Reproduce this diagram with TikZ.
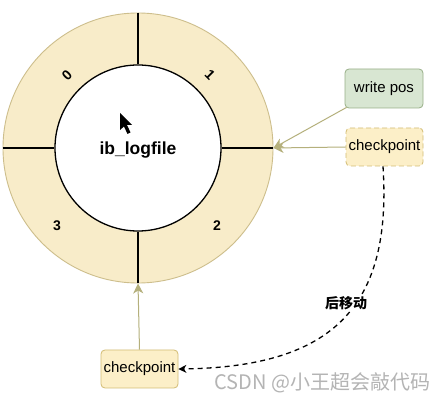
\documentclass[tikz,border=0pt]{standalone}
\usepackage{fontspec}
\setmainfont{Liberation Sans}
\newfontfamily\cjk{Noto Sans CJK SC}
\usetikzlibrary{arrows.meta}
\definecolor{ringfill}{HTML}{F8ECC9}
\definecolor{ringline}{HTML}{CDBE8C}
\definecolor{arrowc}{HTML}{B5B07C}
\definecolor{greenfill}{HTML}{D8E6D2}
\definecolor{greenline}{HTML}{98B088}
\definecolor{yelfill}{HTML}{FCEFC8}
\definecolor{yelline}{HTML}{D2BC74}
\definecolor{wmark}{HTML}{B4B4B4}
\tikzset{
  boxg/.style={draw=greenline, fill=greenfill, rounded corners=4pt, line width=0.8pt,
    minimum width=78pt, minimum height=39pt, inner sep=1pt, font=\fontsize{15}{17}\selectfont},
  boxy/.style={draw=yelline, fill=yelfill, rounded corners=4pt, line width=0.8pt,
    minimum width=77pt, minimum height=38pt, inner sep=1pt, font=\fontsize{15}{17}\selectfont},
  conn/.style={draw=arrowc, line width=1pt, -{Stealth[length=10pt,width=10pt,inset=3pt]}},
  digit/.style={font=\bfseries\fontsize{14}{15}\selectfont},
}
\begin{document}
\begin{tikzpicture}[x=1pt,y=-1pt]
\useasboundingbox (0,0) rectangle (440,401);
\fill[white] (0,0) rectangle (440,401);
% ring
\node[circle, draw=ringline, fill=ringfill, line width=0.9pt, minimum size=270pt, inner sep=0pt] (outer) at (138,148) {};
\node[circle, draw=black, fill=white, line width=1.3pt, minimum size=166pt, inner sep=0pt] (inner) at (138,148) {};
\draw[line width=1.3pt] (outer.north) -- (inner.north);
\draw[line width=1.3pt] (outer.south) -- (inner.south);
\draw[line width=1.3pt] (outer.west) -- (inner.west);
\draw[line width=1.3pt] (outer.east) -- (inner.east);
\node[font=\bfseries\fontsize{17.5}{19}\selectfont] (lbl) at (138,150) {ib\_logfile};
\node[digit, rotate=45] (d0) at (67,75) {0};
\node[digit, rotate=-45] (d1) at (210,75) {1};
\node[digit] (d2) at (217,226) {2};
\node[digit] (d3) at (57,226) {3};
% cursor
\fill[black] (120,113) -- (120,130) -- (124,126.5) -- (127.5,134) -- (130.5,132.5) -- (127,125) -- (132,125) -- cycle;
% boxes
\node[boxg] (wp) at (384,88.5) {write pos};
\node[boxy, dashed, dash pattern=on 5pt off 3pt] (cp1) at (384.5,147) {checkpoint};
\node[boxy] (cp2) at (139.5,369) {checkpoint};
% connectors
\draw[conn] (wp.south west) ++(2,-1) -- (outer.east);
\draw[conn] (cp1.west) -- (outer.east);
\draw[conn] (cp2.north) -- (outer.south);
\draw[line width=1.3pt, dashed, dash pattern=on 5pt off 4pt, -{Stealth[length=8pt,width=8pt,inset=2.5pt]}]
  (cp1.south -| 383,0) .. controls (392,305) and (335,367) .. (cp2.east);
\node[font=\cjk\bfseries\fontsize{14}{16}\selectfont, fill=white, inner sep=1pt] (move) at (346,303) {后移动};
\node[font=\cjk\fontsize{20}{22}\selectfont, text=wmark, anchor=west] (wm) at (211,383) {CSDN @小王超会敲代码};
\end{tikzpicture}
\end{document}
